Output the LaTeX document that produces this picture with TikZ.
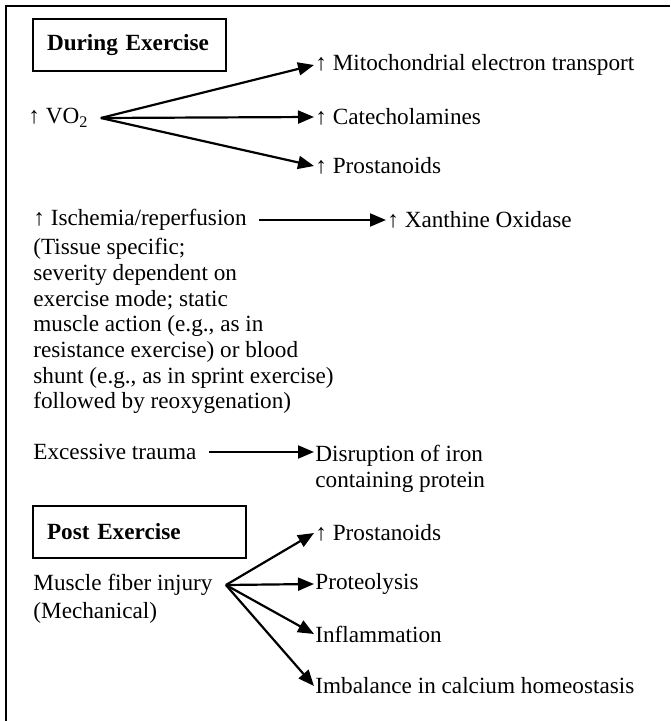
\documentclass[tikz,border=0pt]{standalone}
\usepackage{fontspec}
\setmainfont{Liberation Serif}
\usetikzlibrary{positioning,arrows.meta}
\tikzstyle{phasebox} = [draw, line width=1pt, anchor=north west, inner xsep=7pt, minimum height=26pt, align=left, font=\fontsize{11.6pt}{12.85pt}\selectfont\bfseries]
\tikzstyle{txt}      = [anchor=west, inner sep=0.5pt, align=left, font=\fontsize{11.6pt}{12.85pt}\selectfont]
\tikzstyle{arrow}    = [line width=1.1pt, -{Triangle[length=8pt,width=6.5pt]}]

\begin{document}
\begin{tikzpicture}[x=0.5pt,y=-0.5pt]
	\useasboundingbox (0,0) rectangle (670,721);
	\draw[line width=1pt] (6,721) |- (670,6);

	% during exercise
	\node[phasebox, text width=82.5pt] (during) at (32,18) {During Exercise};
	\node[txt] (vo2) at (27,118) {↑ VO\textsubscript{2}};
	\coordinate[right=5.5pt of vo2] (vo2out);
	\node[txt] (mito) at (314,65) {↑ Mitochondrial electron transport};
	\node[txt] (catech) at (314,117) {↑ Catecholamines};
	\node[txt] (prost) at (314,166) {↑ Prostanoids};
	\foreach \n in {mito,catech,prost}
		\draw[arrow] (vo2out) -- (\n.west);

	\node[txt] (isch) at (32,220) {↑ Ischemia/reperfusion};
	\node[txt, below=2.5pt of isch.south west, anchor=north west] (ischnote) {(Tissue specific;\\severity dependent on\\exercise mode; static\\muscle action (e.g., as in\\resistance exercise) or blood\\shunt (e.g., as in sprint exercise)\\followed by reoxygenation)};
	\coordinate[right=5.5pt of isch] (ischout);
	\node[txt] (xanth) at (386,220) {↑ Xanthine Oxidase};
	\draw[arrow] (ischout) -- (ischout -| xanth.west);

	\node[txt] (trauma) at (32,452) {Excessive trauma};
	\coordinate[right=5.5pt of trauma] (traumaout);
	\node[txt, anchor=north west] (disrupt) at (314,444) {Disruption of iron\\containing protein};
	\draw[arrow] (traumaout) -- (traumaout -| disrupt.west);

	% post exercise
	\node[phasebox, text width=92.5pt] (post) at (32,505) {Post Exercise};
	\node[txt] (muscle) at (32,585) {Muscle fiber injury};
	\node[txt, below=2pt of muscle.south west, anchor=north west] (mech) {(Mechanical)};
	\coordinate[right=6pt of muscle] (muscleout);
	\node[txt] (pprost) at (314,533) {↑ Prostanoids};
	\node[txt] (proteo) at (314,584) {Proteolysis};
	\node[txt] (inflam) at (314,634) {Inflammation};
	\node[txt] (imbal) at (314,686) {Imbalance in calcium homeostasis};
	\foreach \n in {pprost,proteo,inflam,imbal}
		\draw[arrow] (muscleout) -- (\n.west);
\end{tikzpicture}
\end{document}
